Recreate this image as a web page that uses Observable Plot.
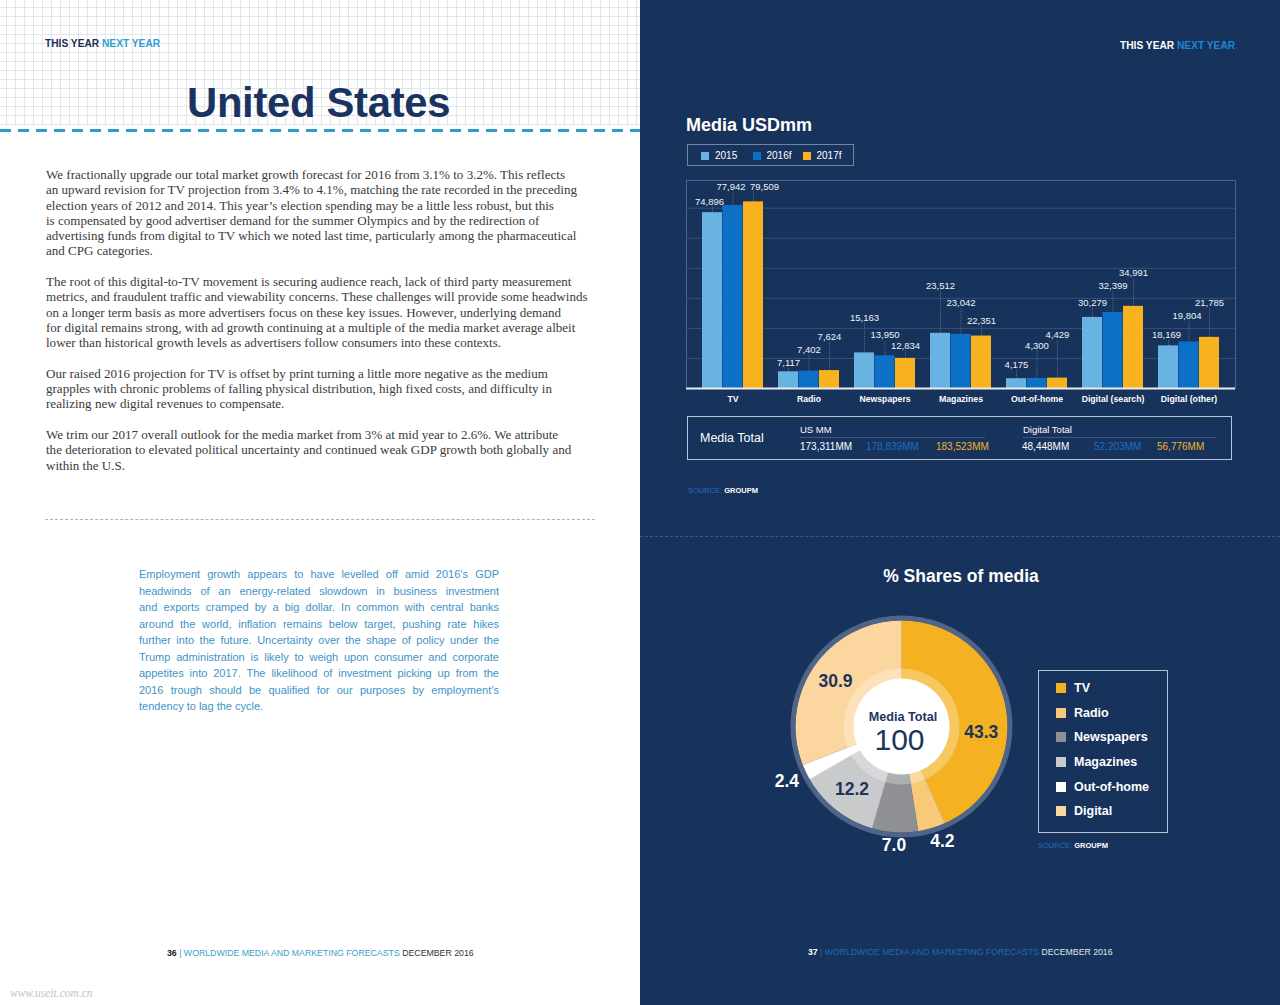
<!DOCTYPE html>
<html><head><meta charset="utf-8">
<script src="https://cdn.jsdelivr.net/npm/d3@7"></script>
<script src="https://cdn.jsdelivr.net/npm/@observablehq/plot@0.6"></script>
<style>
html,body{margin:0;padding:0;}
body{width:1280px;height:1005px;position:relative;overflow:hidden;font-family:"Liberation Sans",Arial,Helvetica,sans-serif;}
.a{position:absolute;white-space:nowrap;}
#left{left:0;top:0;width:640px;height:1005px;background:#fff;}
#grid{left:0;top:0;width:640px;height:126px;background-image:linear-gradient(#e3e6ea 1px,transparent 1px),linear-gradient(90deg,#e3e6ea 1px,transparent 1px);background-size:9px 9px;background-position:-3px -2px;}
#dash1{left:0;top:129px;width:640px;height:3px;background-image:linear-gradient(90deg,#2e9bcf 0 11px,transparent 11px 18px);background-size:18px 3px;}
#right{left:640px;top:0;width:640px;height:1005px;background:#17325b;}
.body{font-family:"Liberation Serif","Times New Roman",serif;font-size:13.05px;color:#3a3a3a;line-height:15.3px;}
.blue{font-size:11px;color:#3e93c7;line-height:16.5px;width:360px;}
.blue div{text-align:justify;text-align-last:justify;}
.blue div.last{text-align-last:left;}
.sq{display:inline-block;width:8px;height:8px;margin-right:6px;vertical-align:-0.5px;}
.lg{display:flex;align-items:center;height:24.6px;font-weight:bold;font-size:12.5px;color:#fff;}
.lg span{display:inline-block;width:10px;height:10px;margin-right:8px;}
</style></head>
<body>
<div id="left" class="a"></div>
<div id="grid" class="a"></div>
<div id="dash1" class="a"></div>
<div class="a" style="left:45px;top:38px;font-size:10.2px;font-weight:bold;line-height:12px;color:#1c2f55;">THIS YEAR <span style="color:#2fa0d0">NEXT YEAR</span></div>
<div class="a" style="left:187px;top:82px;font-size:41.8px;font-weight:bold;line-height:41px;color:#1a3461;letter-spacing:-0.3px;">United States</div>

<div class="a body" style="left:46px;top:167px;">
<div>We fractionally upgrade our total market growth forecast for 2016 from 3.1% to 3.2%. This reflects</div>
<div>an upward revision for TV projection from 3.4% to 4.1%, matching the rate recorded in the preceding</div>
<div>election years of 2012 and 2014. This year’s election spending may be a little less robust, but this</div>
<div>is compensated by good advertiser demand for the summer Olympics and by the redirection of</div>
<div>advertising funds from digital to TV which we noted last time, particularly among the pharmaceutical</div>
<div>and CPG categories.</div>
<div>&nbsp;</div>
<div>The root of this digital-to-TV movement is securing audience reach, lack of third party measurement</div>
<div>metrics, and fraudulent traffic and viewability concerns. These challenges will provide some headwinds</div>
<div>on a longer term basis as more advertisers focus on these key issues. However, underlying demand</div>
<div>for digital remains strong, with ad growth continuing at a multiple of the media market average albeit</div>
<div>lower than historical growth levels as advertisers follow consumers into these contexts.</div>
<div>&nbsp;</div>
<div>Our raised 2016 projection for TV is offset by print turning a little more negative as the medium</div>
<div>grapples with chronic problems of falling physical distribution, high fixed costs, and difficulty in</div>
<div>realizing new digital revenues to compensate.</div>
<div>&nbsp;</div>
<div>We trim our 2017 overall outlook for the media market from 3% at mid year to 2.6%. We attribute</div>
<div>the deterioration to elevated political uncertainty and continued weak GDP growth both globally and</div>
<div>within the U.S.</div>
</div>
<div class="a" style="left:45px;top:519px;width:550px;height:0;border-top:1px dashed #9db6c9;"></div>

<div class="a blue" style="left:139px;top:566px;white-space:normal;">
<div>Employment growth appears to have levelled off amid 2016’s GDP</div>
<div>headwinds of an energy-related slowdown in business investment</div>
<div>and exports cramped by a big dollar. In common with central banks</div>
<div>around the world, inflation remains below target, pushing rate hikes</div>
<div>further into the future. Uncertainty over the shape of policy under the</div>
<div>Trump administration is likely to weigh upon consumer and corporate</div>
<div>appetites into 2017. The likelihood of investment picking up from the</div>
<div>2016 trough should be qualified for our purposes by employment’s</div>
<div class="last">tendency to lag the cycle.</div>
</div>

<div class="a" style="left:167px;top:948px;font-size:8.75px;line-height:10px;color:#3aa0c8;"><b style="color:#222">36</b> | WORLDWIDE MEDIA AND MARKETING FORECASTS <span style="color:#333">DECEMBER 2016</span></div>
<div class="a" style="left:10px;top:986px;font-size:11.5px;line-height:14px;color:#c4c4c4;font-style:italic;font-family:'Liberation Serif',serif;">www.useit.com.cn</div>

<div id="right" class="a"></div>
<div class="a" style="left:1120px;top:40px;font-size:10.2px;font-weight:bold;line-height:12px;color:#fff;">THIS YEAR <span style="color:#1f87d8">NEXT YEAR</span></div>
<div class="a" style="left:686px;top:114px;font-size:18px;font-weight:bold;line-height:22px;color:#fff;">Media USDmm</div>
<div class="a" style="left:687px;top:144px;width:167px;height:22px;border:1px solid #6f86aa;box-sizing:border-box;"></div>
<div class="a" id="barLegend" style="left:701px;top:150px;font-size:10px;line-height:12px;color:#fff;"></div>
<div class="a" id="bars" style="left:685px;top:179px;"></div>

<div class="a" style="left:687px;top:416px;width:545px;height:44px;border:1.5px solid #b9c4d4;box-sizing:border-box;"></div>
<div class="a" style="left:700px;top:430px;font-size:12.5px;line-height:16px;color:#fff;">Media Total</div>
<div class="a" style="left:800px;top:424px;font-size:9.5px;line-height:12px;color:#fff;">US MM</div>
<div class="a" style="left:800px;top:437px;width:185px;border-top:1px solid #3d5885;"></div>
<div class="a" style="left:1023px;top:424px;font-size:9.5px;line-height:12px;color:#fff;">Digital Total</div>
<div class="a" style="left:1023px;top:437px;width:193px;border-top:1px solid #3d5885;"></div>
<div class="a" id="totals" style="left:0;top:441px;font-size:10px;line-height:12px;"></div>
<div class="a" style="left:688px;top:486px;font-size:7.5px;line-height:10px;color:#1f6fc0;">SOURCE: <b style="color:#fff">GROUPM</b></div>

<div class="a" style="left:640px;top:536px;width:640px;height:0;border-top:1px dashed #3b5a88;"></div>

<div class="a" id="pie" style="left:751px;top:576px;"></div>
<div class="a" style="left:640px;top:565px;width:642px;text-align:center;font-size:17.5px;font-weight:bold;line-height:22px;color:#fff;">% Shares of media</div>
<div class="a" style="left:1038px;top:670px;width:130px;height:163px;border:1px solid #b8c3d3;box-sizing:border-box;"></div>
<div class="a" id="pieLegend" style="left:1056px;top:676px;"></div>
<div class="a" style="left:1038px;top:841px;font-size:7.5px;line-height:10px;color:#1f6fc0;">SOURCE: <b style="color:#fff">GROUPM</b></div>

<div class="a" style="left:808px;top:947px;font-size:8.7px;line-height:10px;color:#1e6cb4;"><b style="color:#fff">37</b> | WORLDWIDE MEDIA AND MARKETING FORECASTS <span style="color:#dfe6ee">DECEMBER 2016</span></div>

<script>
// ---------- data ----------
const categories = ["TV","Radio","Newspapers","Magazines","Out-of-home","Digital (search)","Digital (other)"];
const years = ["2015","2016f","2017f"];
const values2015 = [74896, 7117, 15163, 23512, 4175, 30279, 18169];
const values2016 = [77942, 7402, 13950, 23042, 4300, 32399, 19804];
const values2017 = [79509, 7624, 12834, 22351, 4429, 34991, 21785];
const gridValues = [12800, 25600, 38400, 51200, 64000, 76800];

const totalLabels = ["US MM", "Digital Total"];
const usTotals = ["173,311MM", "178,839MM", "183,523MM"];
const digitalTotals = ["48,448MM", "52,203MM", "56,776MM"];

const shareLabels = ["TV","Radio","Newspapers","Magazines","Out-of-home","Digital"];
const shareValues = [43.3, 4.2, 7.0, 12.2, 2.4, 30.9];

// ---------- styles ----------
const yearColors = ["#69b3e3", "#0b70c6", "#f7b21d"];
const shareColors = ["#f4b223", "#f9c97a", "#8f9093", "#c9cacc", "#ffffff", "#fbd69e"];
// label lift above bar top (px) and horizontal nudge (px), per year row then category
const labelLift = [
  [10.9, 9.1, 35.2, 47.3, 13.7, 14.7, 10.5],
  [18.5, 21.1, 20.4, 31.1, 32.4, 26.4, 25.7],
  [14.8, 33.9, 12.4, 15.3, 42.8, 33.0, 34.0]
];
const labelNudge = [
  [-3, 0, 0, 0, 0, 0, -2],
  [-2, 0, 0, 0, 0, 0, -2],
  [11, 0, 0, 0, 0, 0, 0]
];
const shareLabelR = [80, 122, 119, 80, 127, 80];
const shareLabelShift = [16, -3, 0, 0, 0, 0];
const shareLabelInside = [true, false, false, true, false, true];

// ---------- legends / totals (HTML) ----------
const bl = document.getElementById("barLegend");
const legendX = [0, 51.5, 101.5];
years.forEach((y,i)=>{
  const s = document.createElement("div");
  s.className = "a";
  s.style.left = legendX[i] + "px"; s.style.top = "0px";
  s.innerHTML = `<span class="sq" style="background:${yearColors[i]}"></span>${y}`;
  bl.appendChild(s);
});
const tot = document.getElementById("totals");
const totColors = ["#ffffff", "#1f6fc0", "#f2b52a"];
const usX = [800, 866, 936], digX = [1022, 1094, 1157];
usTotals.forEach((t,i)=>{ const d=document.createElement("div"); d.className="a"; d.style.left=usX[i]+"px"; d.style.color=totColors[i]; d.textContent=t; tot.appendChild(d); });
digitalTotals.forEach((t,i)=>{ const d=document.createElement("div"); d.className="a"; d.style.left=digX[i]+"px"; d.style.color=totColors[i]; d.textContent=t; tot.appendChild(d); });

const pl = document.getElementById("pieLegend");
shareLabels.forEach((k,i)=>{
  const d = document.createElement("div");
  d.className = "lg";
  d.innerHTML = `<span style="background:${shareColors[i]}"></span>${k}`;
  pl.appendChild(d);
});

// ---------- bar chart ----------
const series = [values2015, values2016, values2017];
const rows = [];
series.forEach((vals, yi) => vals.forEach((v, ci) => rows.push({cat: categories[ci], year: years[yi], yi, ci, value: v})));

const W = 551, plotW = 549, plotH = 208, mB = 24;
const yMax = 88600;
const upp = yMax / plotH;
const pInner = 0.2, pOuter = 0.172;
const step = plotW / (categories.length - pInner + 2 * pOuter);
const bw = step * (1 - pInner);
const third = bw / 3;

const barMarks = years.map((y, yi) => Plot.barY(rows.filter(d => d.yi === yi), {
  x: "cat", y: "value", fill: yearColors[yi],
  insetLeft: yi * third, insetRight: (2 - yi) * third
}));
const labelMarks = [];
rows.forEach(d => {
  const lift = labelLift[d.yi][d.ci];
  const dx = (d.yi - 1) * third;
  labelMarks.push(Plot.ruleX([d], {
    x: "cat", y1: r => r.value, y2: r => r.value + (lift - 5) * upp,
    dx, stroke: "#a9b8cf", strokeWidth: 0.6, strokeDasharray: "1,1.2", strokeOpacity: 0.8
  }));
  labelMarks.push(Plot.text([d], {
    x: "cat", y: r => r.value + lift * upp, text: r => d3.format(",")(r.value),
    dx: dx + labelNudge[d.yi][d.ci], fill: "#eef2f7", fontSize: 9.5, fontWeight: "normal"
  }));
});

const bars = Plot.plot({
  width: W, height: 1 + plotH + mB,
  marginLeft: 1, marginRight: 1, marginTop: 1, marginBottom: mB,
  style: {background: "transparent", color: "white", fontSize: "8.7px", fontWeight: "bold", fontFamily: "'Liberation Sans', Arial, sans-serif", overflow: "visible"},
  x: {domain: categories, paddingInner: pInner, paddingOuter: pOuter, align: 0.5, tickSize: 0, tickPadding: 7, label: null},
  y: {domain: [0, yMax], axis: null},
  marks: [
    Plot.frame({stroke: "#4a6490", strokeWidth: 1}),
    Plot.ruleY(gridValues, {stroke: "#34507c", strokeWidth: 1}),
    ...barMarks,
    Plot.ruleY([0], {stroke: "#e8edf3", strokeWidth: 2}),
    ...labelMarks
  ]
});
document.getElementById("bars").appendChild(bars);

// ---------- donut ----------
const R = 106;
const piePts = [];
const slices = [];
let acc = 0;
shareLabels.forEach((k, i) => {
  const a0 = acc / 100 * 2 * Math.PI;
  acc += shareValues[i];
  const a1 = acc / 100 * 2 * Math.PI;
  slices.push({k, i, v: shareValues[i], mid: (a0 + a1) / 2});
  piePts.push({k, x: 0, y: 0});
  const n = Math.max(2, Math.ceil((a1 - a0) / (Math.PI / 360)));
  for (let j = 0; j <= n; j++) {
    const a = a0 + (a1 - a0) * j / n;
    piePts.push({k, x: R * Math.sin(a), y: R * Math.cos(a)});
  }
});
const lblAngle = s => s.mid + shareLabelShift[s.i] * Math.PI / 180;

const pie = Plot.plot({
  width: 300, height: 300, margin: 0,
  style: {background: "transparent", overflow: "visible", fontFamily: "'Liberation Sans', Arial, sans-serif"},
  x: {domain: [-150, 150], axis: null},
  y: {domain: [-150, 150], axis: null},
  color: {domain: shareLabels, range: shareColors},
  marks: [
    Plot.line(piePts, {x: "x", y: "y", z: "k", fill: "k", stroke: "k", strokeWidth: 0.5}),
    Plot.dot([[0, 0]], {r: 58, fill: "white", fillOpacity: 0.28, stroke: null}),
    Plot.dot([[0, 0]], {r: 48, fill: "white", stroke: null}),
    Plot.dot([[0, 0]], {r: 108.5, fill: "none", stroke: "#4e6489", strokeWidth: 5}),
    Plot.text(slices, {
      x: s => shareLabelR[s.i] * Math.sin(lblAngle(s)),
      y: s => shareLabelR[s.i] * Math.cos(lblAngle(s)),
      text: s => s.v.toFixed(1),
      fill: s => shareLabelInside[s.i] ? "#1d3459" : "#ffffff",
      fontSize: 17.5, fontWeight: "bold"
    }),
    Plot.text(["Media Total"], {x: () => 1.5, y: () => 10, text: d => d, fill: "#1e3560", fontSize: 12.6, fontWeight: "bold"}),
    Plot.text(["100"], {x: () => -2, y: () => -14, text: d => d, fill: "#1e3560", fontSize: 30})
  ]
});
document.getElementById("pie").appendChild(pie);
</script>
</body></html>
